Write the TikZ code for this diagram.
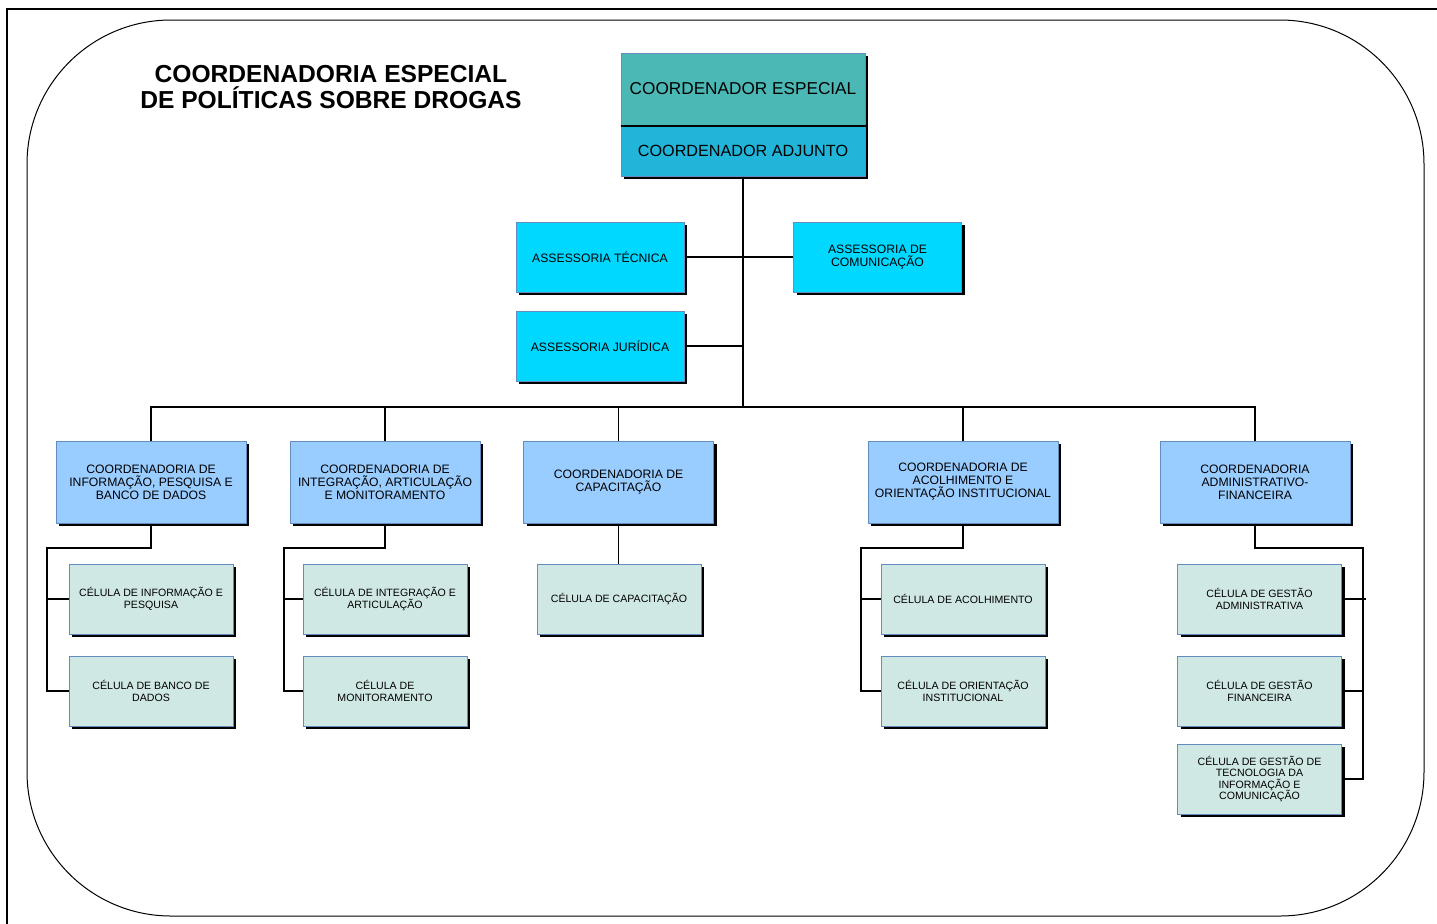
\documentclass[tikz,border=0pt]{standalone}
\usepackage{fontspec}
\setmainfont{Liberation Sans}
\usetikzlibrary{shadows}
\definecolor{cteal}{HTML}{4BB8B5}
\definecolor{cadj}{HTML}{22B5DA}
\definecolor{ccyan}{HTML}{00D8FF}
\definecolor{cblue}{HTML}{99CCFF}
\definecolor{ccell}{HTML}{D0E8E4}
\definecolor{cbord}{HTML}{648CBE}
\tikzset{
  box/.style={draw=cbord, line width=0.5pt, align=center, inner sep=1pt,
    drop shadow={shadow xshift=1.6pt, shadow yshift=-1.6pt, fill=black, opacity=1}},
  topbox/.style={box, fill=cteal, minimum width=122pt, minimum height=36pt, font=\fontsize{8.6}{9.5}\selectfont},
  adjbox/.style={box, fill=cadj, minimum width=122pt, minimum height=25.5pt, font=\fontsize{8.1}{9}\selectfont},
  assbox/.style={box, fill=ccyan, minimum width=84pt, minimum height=35pt, font=\fontsize{6.1}{6.5}\selectfont},
  coordbox/.style={box, fill=cblue, minimum width=95pt, minimum height=41pt, font=\fontsize{6.1}{6.5}\selectfont},
  cellbox/.style={box, fill=ccell, minimum width=82pt, minimum height=35pt, font=\fontsize{5.3}{5.8}\selectfont},
  conn/.style={draw=black, line width=0.6pt},
  title/.style={align=center, font=\fontsize{12.3}{13}\selectfont\bfseries}
}
\begin{document}
\begin{tikzpicture}[x=0.5pt,y=-0.5pt]
\useasboundingbox (0,0) rectangle (1437,923);
\draw[line width=1.1pt] (7,930) -- (7,9) -- (1445,9);
\draw[line width=0.5pt, rounded corners=72pt] (27,20) rectangle (1424,916);
\node[title] (ttl) at (331,87) {COORDENADORIA ESPECIAL\\DE POLÍTICAS SOBRE DROGAS};

% top
\node[topbox] (ce) at (743,89) {COORDENADOR ESPECIAL};
\node[adjbox] (ca) at (743,150.5) {COORDENADOR ADJUNTO};
\draw[line width=1pt] (ce.south west) -- (ce.south east);

% assessorias
\node[assbox] (at) at (600,257) {ASSESSORIA TÉCNICA};
\node[assbox] (ajur) at (600,346) {ASSESSORIA JURÍDICA};
\node[assbox] (acom) at (877.5,257) {ASSESSORIA DE\\COMUNICAÇÃO};

\coordinate (bus) at (743,407);
\draw[conn] (ca.south) -- (bus);
\draw[conn] (at.east) -- (acom.west);
\draw[conn] (ajur.east) -- (ajur.east -| bus);

% coordenadorias
\node[coordbox] (c1) at (151,482) {COORDENADORIA DE\\INFORMAÇÃO, PESQUISA E\\BANCO DE DADOS};
\node[coordbox] (c2) at (385,482) {COORDENADORIA DE\\INTEGRAÇÃO, ARTICULAÇÃO\\E MONITORAMENTO};
\node[coordbox] (c3) at (618.5,482) {COORDENADORIA DE\\CAPACITAÇÃO};
\node[coordbox] (c4) at (963,482) {COORDENADORIA DE\\ACOLHIMENTO E\\ORIENTAÇÃO INSTITUCIONAL};
\node[coordbox] (c5) at (1255,482) {COORDENADORIA\\ADMINISTRATIVO-\\FINANCEIRA};

\draw[conn] (c1.north) -- (c1.north |- bus) -- (c5.north |- bus) -- (c5.north);
\draw[conn] (c2.north) -- (c2.north |- bus);
\draw[conn] (c3.north) -- (c3.north |- bus);
\draw[conn] (c4.north) -- (c4.north |- bus);

% cells
\node[cellbox] (n11) at (151,599) {CÉLULA DE INFORMAÇÃO E\\PESQUISA};
\node[cellbox] (n12) at (151,691) {CÉLULA DE BANCO DE\\DADOS};
\node[cellbox] (n21) at (385,599) {CÉLULA DE INTEGRAÇÃO E\\ARTICULAÇÃO};
\node[cellbox] (n22) at (385,691) {CÉLULA DE\\MONITORAMENTO};
\node[cellbox] (n31) at (619,599) {CÉLULA DE CAPACITAÇÃO};
\node[cellbox] (n41) at (963,599) {CÉLULA DE ACOLHIMENTO};
\node[cellbox] (n42) at (963,691) {CÉLULA DE ORIENTAÇÃO\\INSTITUCIONAL};
\node[cellbox] (n51) at (1259.5,599) {CÉLULA DE GESTÃO\\ADMINISTRATIVA};
\node[cellbox] (n52) at (1259.5,691) {CÉLULA DE GESTÃO\\FINANCEIRA};
\node[cellbox] (n53) at (1259.5,779) {CÉLULA DE GESTÃO DE\\TECNOLOGIA DA\\INFORMAÇÃO E\\COMUNICAÇÃO};

\coordinate (k1) at (47,548);
\coordinate (k2) at (284,548);
\coordinate (k4) at (861,548);
\coordinate (k5) at (1363,548);

\draw[conn] (c1.south) |- (k1) |- (n12.west);
\draw[conn] (n11.west) -- (n11.west -| k1);
\draw[conn] (c2.south) |- (k2) |- (n22.west);
\draw[conn] (n21.west) -- (n21.west -| k2);
\draw[conn] (c3.south) -- (n31.north -| c3.south);
\draw[conn] (c4.south) |- (k4) |- (n42.west);
\draw[conn] (n41.west) -- (n41.west -| k4);
\draw[conn] (c5.south) |- (k5) |- (n53.east);
\draw[conn] (n51.east) -- ++(24,0);
\draw[conn] (n52.east) -- (n52.east -| k5);
\end{tikzpicture}
\end{document}
